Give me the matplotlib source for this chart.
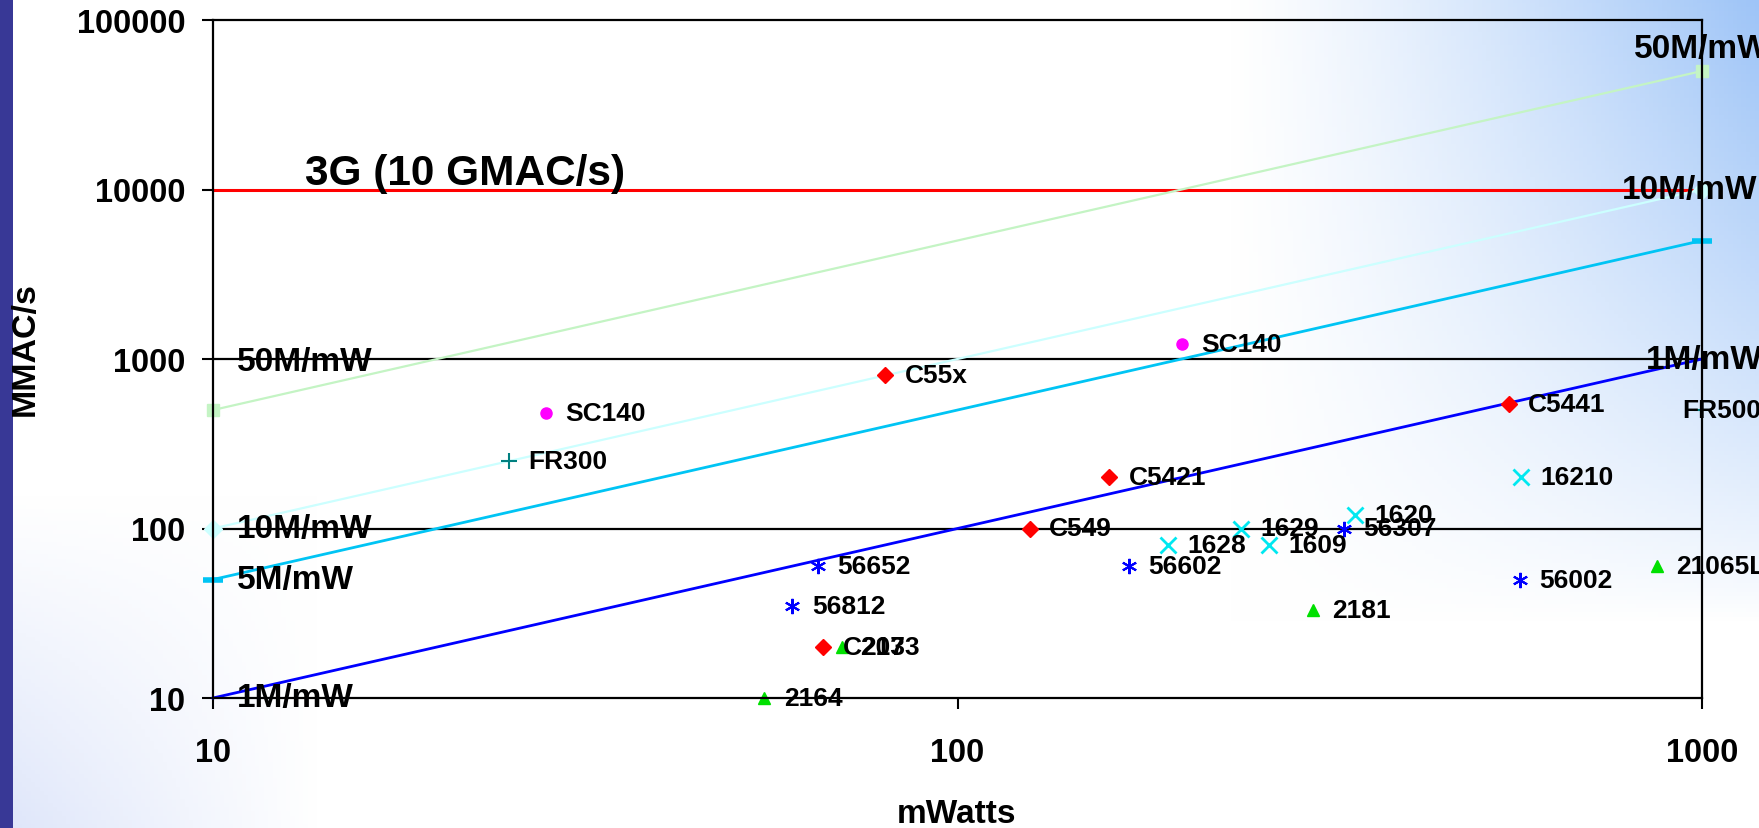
import numpy as np
import matplotlib
matplotlib.use('Agg')
import matplotlib.pyplot as plt
from matplotlib.ticker import NullLocator

plt.rcParams['font.family'] = ['Liberation Sans', 'DejaVu Sans']
plt.rcParams['font.weight'] = 'bold'

# efficiency lines (mW -> MMAC/s at end points)
line_x = [10, 1000]
y_50 = [500, 50000]
y_10 = [100, 10000]
y_5 = [50, 5000]
y_1 = [10, 1000]
target_3g = 10000

# TI C5x
ti_x = [80, 160, 125, 550, 66]
ti_y = [800, 200, 100, 540, 20]
ti_lbl = ['C55x', 'C5421', 'C549', 'C5441', 'C203']

# StarCore
sc_x = [28, 200]
sc_y = [480, 1230]
sc_lbl = ['SC140', 'SC140']

# FR
fr_x = [25, 1000]
fr_y = [250, 500]
fr_lbl = ['FR300', 'FR500']

# Motorola 56k
mot_x = [65, 60, 170, 330, 570]
mot_y = [60, 35, 60, 100, 50]
mot_lbl = ['56652', '56812', '56602', '56307', '56002']

# 16xx
d16_x = [192, 240, 262, 342, 572]
d16_y = [80, 100, 80, 120, 200]
d16_lbl = ['1628', '1629', '1609', '1620', '16210']

# ADI 21xx
adi_x = [55, 70, 300, 870]
adi_y = [10, 20, 33, 60]
adi_lbl = ['2164', '2173', '2181', '21065L']

W, H = 1759, 829
fig = plt.figure(figsize=(W / 100, H / 100), dpi=100)

# background gradient
bg = fig.add_axes([0, 0, 1, 1], zorder=-5)
gx, gy = np.meshgrid(np.linspace(0, 1, 400), np.linspace(0, 1, 200))
img = np.ones((200, 400, 3))
w1 = np.clip((gx - 0.7) / 0.3, 0, 1) ** 1.2 * np.clip(1 - gy / 0.75, 0, 1) ** 0.8
w2 = np.clip(1 - gx / 0.18, 0, 1) * np.clip((gy - 0.6) / 0.4, 0, 1) * 0.5
c1 = np.array([0.62, 0.77, 0.97])
c2 = np.array([0.74, 0.80, 0.96])
for k in range(3):
    img[:, :, k] = img[:, :, k] * (1 - w1) + c1[k] * w1
    img[:, :, k] = img[:, :, k] * (1 - w2) + c2[k] * w2
img[:, :int(400 * 11 / W) + 1, :] = [0.22, 0.22, 0.59]
bg.imshow(img, extent=[0, 1, 0, 1], aspect='auto', origin='upper')
bg.set_xlim(0, 1)
bg.set_ylim(0, 1)
bg.axis('off')

ax = fig.add_axes([213 / W, 1 - 699 / H, (1702 - 213) / W, (699 - 21) / H])
ax.set_facecolor('none')
ax.set_xscale('log')
ax.set_yscale('log')
ax.set_xlim(10, 1000)
ax.set_ylim(10, 100000)

ax.axhline(100, color='k', lw=1.6, zorder=1)
ax.axhline(1000, color='k', lw=1.6, zorder=1)
ax.axhline(target_3g, color='red', lw=2.2, zorder=1)

ax.plot(line_x, y_50, '-s', color='#c4f4c4', lw=1.6, ms=9, clip_on=False)
ax.plot(line_x, y_10, '-D', color='#ccffff', lw=1.6, ms=9, clip_on=False)
ax.plot(line_x, y_5, '-_', color='#00c4f4', lw=2, ms=14, mew=4, clip_on=False)
ax.plot(line_x, y_1, '-', color='#0000ff', lw=2, clip_on=False)

ax.plot(ti_x, ti_y, 'D', color='#ff0000', ms=8, ls='none')
ax.plot(sc_x, sc_y, 'o', color='#ff00ff', ms=8, ls='none')
ax.plot(fr_x, fr_y, '+', color='#008080', ms=11, mew=1.5, ls='none', clip_on=False)
ax.plot(mot_x, mot_y, marker=(6, 2, 0), color='#0000ff', ms=11, mew=1.5, ls='none')
ax.plot(d16_x, d16_y, 'x', color='#00e8f0', ms=11, mew=2, ls='none')
ax.plot(adi_x, adi_y, '^', color='#00e000', ms=9, ls='none', clip_on=False)

def put_labels(xs, ys, labels, dx=14):
    for x, y, s in zip(xs, ys, labels):
        ax.annotate(s, (x, y), xytext=(dx, 0), textcoords='offset points',
                    ha='left', va='center', fontsize=19, fontweight='bold',
                    annotation_clip=False)

put_labels(ti_x, ti_y, ti_lbl)
put_labels(sc_x, sc_y, sc_lbl)
put_labels(fr_x[:1], fr_y[:1], fr_lbl[:1])
ax.annotate(fr_lbl[1], (fr_x[1], fr_y[1]), xytext=(-14, 0), textcoords='offset points',
            ha='left', va='center', fontsize=19, fontweight='bold', annotation_clip=False)
put_labels(mot_x, mot_y, mot_lbl)
put_labels(d16_x, d16_y, d16_lbl)
put_labels(adi_x, adi_y, adi_lbl)

# rate labels
rate_kw = dict(textcoords='offset points', fontsize=24, fontweight='bold', annotation_clip=False)
ax.annotate('50M/mW', (line_x[0], y_50[0]), xytext=(17, 35), ha='left', va='center', **rate_kw)
ax.annotate('10M/mW', (line_x[0], y_10[0]), xytext=(17, 0), ha='left', va='center', **rate_kw)
ax.annotate('5M/mW', (line_x[0], y_5[0]), xytext=(17, 0), ha='left', va='center', **rate_kw)
ax.annotate('1M/mW', (line_x[0], y_1[0]), xytext=(17, 0), ha='left', va='center', **rate_kw)
ax.annotate('50M/mW', (line_x[1], y_50[1]), xytext=(0, 16), ha='center', va='center', **rate_kw)
ax.annotate('10M/mW', (line_x[1], y_10[1]), xytext=(-9, 0), ha='center', va='center', **rate_kw)
ax.annotate('1M/mW', (line_x[1], y_1[1]), xytext=(2, 0), ha='center', va='center', **rate_kw)

ax.text(0.062, 0.775, '3G (10 GMAC/s)', transform=ax.transAxes, fontsize=30.5,
        fontweight='bold', ha='left', va='center')

ax.set_xticks([10, 100, 1000], labels=['10', '100', '1000'])
ax.set_yticks([10, 100, 1000, 10000, 100000], labels=['10', '100', '1000', '10000', '100000'])
ax.xaxis.set_minor_locator(NullLocator())
ax.yaxis.set_minor_locator(NullLocator())
ax.tick_params(axis='x', direction='out', length=8, width=1.5, pad=20, labelsize=23.5)
ax.tick_params(axis='y', direction='out', length=8, width=1.5, pad=12, labelsize=23.5)
for lab in ax.get_xticklabels() + ax.get_yticklabels():
    lab.set_fontweight('bold')
for sp in ax.spines.values():
    sp.set_color('k')
    sp.set_linewidth(1.6)

fig.text(25 / W, 1 - 349 / H, 'MMAC/s', rotation=90, ha='center', va='center',
         fontsize=24.5, fontweight='bold')
fig.text(957 / W, 1 - 815 / H, 'mWatts', ha='center', va='center',
         fontsize=24, fontweight='bold')

fig.savefig('out.png', dpi=100)
